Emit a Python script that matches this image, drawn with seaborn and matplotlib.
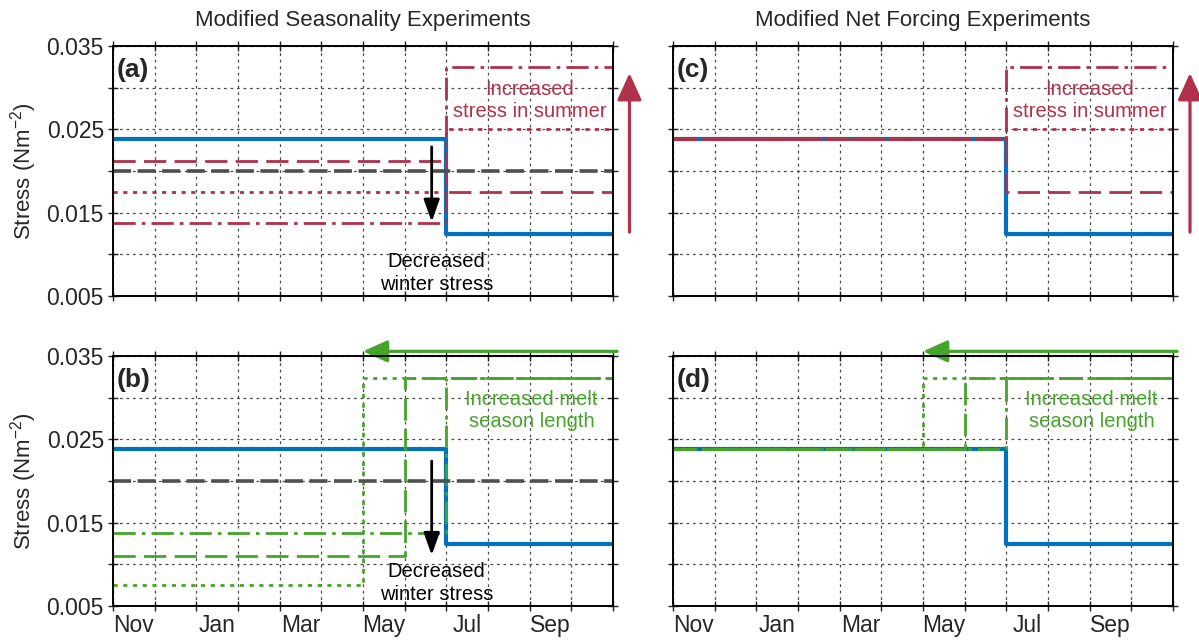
import numpy as np
import matplotlib
matplotlib.use("Agg")
import matplotlib.pyplot as plt
import seaborn as sns

# ---------------- data ----------------
months = ["Nov", "Dec", "Jan", "Feb", "Mar", "Apr", "May", "Jun", "Jul", "Aug", "Sep", "Oct"]
month_labels = ["Nov", "Jan", "Mar", "May", "Jul", "Sep"]
y_ticks = [0.005, 0.010, 0.015, 0.020, 0.025, 0.030, 0.035]
y_labels = ["0.005", "", "0.015", "", "0.025", "", "0.035"]

# monthly stress values (Nov..Oct)
control = [0.0238, 0.0238, 0.0238, 0.0238, 0.0238, 0.0238, 0.0238, 0.0238, 0.0125, 0.0125, 0.0125, 0.0125]
annual_mean = [0.020] * 12

# (a) modified seasonality
seas_dashed = [0.0212, 0.0212, 0.0212, 0.0212, 0.0212, 0.0212, 0.0212, 0.0212, 0.0175, 0.0175, 0.0175, 0.0175]
seas_dotted = [0.0175, 0.0175, 0.0175, 0.0175, 0.0175, 0.0175, 0.0175, 0.0175, 0.0250, 0.0250, 0.0250, 0.0250]
seas_dashdot = [0.0138, 0.0138, 0.0138, 0.0138, 0.0138, 0.0138, 0.0138, 0.0138, 0.0325, 0.0325, 0.0325, 0.0325]

# (c) modified net forcing
net_dashed = [0.0238, 0.0238, 0.0238, 0.0238, 0.0238, 0.0238, 0.0238, 0.0238, 0.0175, 0.0175, 0.0175, 0.0175]
net_dotted = [0.0238, 0.0238, 0.0238, 0.0238, 0.0238, 0.0238, 0.0238, 0.0238, 0.0250, 0.0250, 0.0250, 0.0250]
net_dashdot = [0.0238, 0.0238, 0.0238, 0.0238, 0.0238, 0.0238, 0.0238, 0.0238, 0.0325, 0.0325, 0.0325, 0.0325]

# (b) melt season length, modified seasonality
melt_dashdot = [0.0138, 0.0138, 0.0138, 0.0138, 0.0138, 0.0138, 0.0138, 0.0138, 0.0324, 0.0324, 0.0324, 0.0324]
melt_dashed = [0.0110, 0.0110, 0.0110, 0.0110, 0.0110, 0.0110, 0.0110, 0.0324, 0.0324, 0.0324, 0.0324, 0.0324]
melt_dotted = [0.0075, 0.0075, 0.0075, 0.0075, 0.0075, 0.0075, 0.0324, 0.0324, 0.0324, 0.0324, 0.0324, 0.0324]

# (d) melt season length, net forcing
meltnet_dashdot = [0.0238, 0.0238, 0.0238, 0.0238, 0.0238, 0.0238, 0.0238, 0.0238, 0.0324, 0.0324, 0.0324, 0.0324]
meltnet_dashed = [0.0238, 0.0238, 0.0238, 0.0238, 0.0238, 0.0238, 0.0238, 0.0324, 0.0324, 0.0324, 0.0324, 0.0324]
meltnet_dotted = [0.0238, 0.0238, 0.0238, 0.0238, 0.0238, 0.0238, 0.0324, 0.0324, 0.0324, 0.0324, 0.0324, 0.0324]

# ---------------- style ----------------
sns.set_theme(style="white")
plt.rcParams["font.family"] = ["Liberation Sans", "DejaVu Sans"]
plt.rcParams["mathtext.default"] = "regular"

BLUE = "#0072BD"
RED = "#B0314A"
GREEN = "#45A52A"
GRAY = "#4F4F4F"

LS_DASH = (0, (8, 3))
LS_DOT = (0, (1.5, 2))
LS_DASHDOT = (0, (8, 2.2, 1.3, 2.2))
LS_GRAY = (0, (5, 1.8))

fig = plt.figure(figsize=(11.99, 6.41), dpi=100)
W, H = 0.4170, 0.3900
ax_a = fig.add_axes([0.0942, 0.5382, W, H])
ax_b = fig.add_axes([0.0942, 0.0546, W, H])
ax_c = fig.add_axes([0.5613, 0.5382, W, H])
ax_d = fig.add_axes([0.5613, 0.0546, W, H])

x_edges = np.arange(13)


def step_line(ax, vals, color, lw, ls="-"):
    y = list(vals) + [vals[-1]]
    sns.lineplot(x=x_edges, y=y, ax=ax, color=color, lw=lw, linestyle=ls,
                 drawstyle="steps-post", estimator=None, sort=False, legend=False,
                 solid_capstyle="butt", dash_capstyle="butt")


def style_axes(ax, left_labels, bottom_labels):
    ax.set_xlim(0, 12)
    ax.set_ylim(0.005, 0.035)
    ax.set_xticks(np.arange(13))
    ax.set_xticklabels([])
    ax.set_xticks(np.arange(0.5, 12, 2), minor=True)
    if bottom_labels:
        ax.set_xticklabels(month_labels, minor=True)
    else:
        ax.set_xticklabels([], minor=True)
    ax.set_yticks(y_ticks)
    ax.set_yticklabels(y_labels if left_labels else [])
    ax.tick_params(which="major", direction="inout", length=7, width=1.0,
                   top=True, right=True, left=True, bottom=True,
                   labelsize=16.5, color="#222222", pad=3)
    ax.tick_params(axis="x", which="minor", length=0, labelsize=16.5, pad=6)
    ax.grid(True, which="major", linestyle=(0, (2.2, 3)), color="#4a4a4a", lw=0.9)
    for s in ax.spines.values():
        s.set_color("black")
        s.set_linewidth(1.4)
        s.set_zorder(5)
    ax.set_xlabel("")
    ax.set_ylabel("")


# (a)
step_line(ax_a, control, BLUE, 3.0)
step_line(ax_a, seas_dashed, RED, 2.0, LS_DASH)
step_line(ax_a, seas_dotted, RED, 2.0, LS_DOT)
step_line(ax_a, seas_dashdot, RED, 2.0, LS_DASHDOT)
step_line(ax_a, annual_mean, GRAY, 2.6, LS_GRAY)

# (b)
step_line(ax_b, control, BLUE, 3.0)
step_line(ax_b, melt_dashdot, GREEN, 2.0, LS_DASHDOT)
step_line(ax_b, melt_dashed, GREEN, 2.0, LS_DASH)
step_line(ax_b, melt_dotted, GREEN, 2.0, LS_DOT)
step_line(ax_b, annual_mean, GRAY, 2.6, LS_GRAY)

# (c)
step_line(ax_c, control, BLUE, 3.0)
step_line(ax_c, net_dashed, RED, 2.0, LS_DASH)
step_line(ax_c, net_dotted, RED, 2.0, LS_DOT)
step_line(ax_c, net_dashdot, RED, 2.0, LS_DASHDOT)

# (d)
step_line(ax_d, control, BLUE, 3.0)
step_line(ax_d, meltnet_dashdot, GREEN, 2.0, LS_DASHDOT)
step_line(ax_d, meltnet_dashed, GREEN, 2.0, LS_DASH)
step_line(ax_d, meltnet_dotted, GREEN, 2.0, LS_DOT)

style_axes(ax_a, True, False)
style_axes(ax_b, True, True)
style_axes(ax_c, False, False)
style_axes(ax_d, False, True)

# panel letters
for ax, lab in zip([ax_a, ax_b, ax_c, ax_d], ["(a)", "(b)", "(c)", "(d)"]):
    ax.text(0.008, 0.905, lab, transform=ax.transAxes, fontsize=19,
            fontweight="bold", ha="left", va="center", zorder=6)

# annotations text
for ax in (ax_a, ax_c):
    ax.text(10.0, 0.0285, "Increased\nstress in summer", color=RED, fontsize=14.5,
            ha="center", va="center", linespacing=1.2)
for ax in (ax_b, ax_d):
    ax.text(10.05, 0.0285, "Increased melt\nseason length", color=GREEN, fontsize=14.5,
            ha="center", va="center", linespacing=1.2)
for ax, ytop, ytip in ((ax_a, 0.0229, 0.0139), (ax_b, 0.0224, 0.0111)):
    ax.text(7.77, 0.0078, "Decreased\nwinter stress", color="black", fontsize=14.5,
            ha="center", va="center", linespacing=1.25)
    ax.annotate("", xy=(7.65, ytip), xytext=(7.65, ytop),
                arrowprops=dict(arrowstyle="-|>,head_length=0.9,head_width=0.32",
                                mutation_scale=15, lw=2.0, color="black",
                                shrinkA=0, shrinkB=0))

# green arrows above bottom panels
for ax in (ax_b, ax_d):
    ax.annotate("", xy=(6.0, 0.03556), xytext=(12.1, 0.03556),
                arrowprops=dict(arrowstyle="-|>,head_length=1.0,head_width=0.45",
                                mutation_scale=15, lw=2.3, color=GREEN,
                                shrinkA=0, shrinkB=0),
                annotation_clip=False)

# red arrows beside panel (c)
for xf in (0.5250, 0.9925):
    ax_c.annotate("", xy=(xf, 0.886), xytext=(xf, 0.638),
                  xycoords="figure fraction", textcoords="figure fraction",
                  arrowprops=dict(arrowstyle="-|>,head_length=1.1,head_width=0.5",
                                  mutation_scale=15, lw=2.3, color=RED,
                                  shrinkA=0, shrinkB=0),
                  annotation_clip=False)

# column titles
fig.text(0.3028, 0.968, "Modified Seasonality Experiments", fontsize=16,
         ha="center", va="center")
fig.text(0.7698, 0.968, "Modified Net Forcing Experiments", fontsize=16,
         ha="center", va="center")

# y labels
for ax in (ax_a, ax_b):
    pos = ax.get_position()
    fig.text(0.020, pos.y0 + pos.height / 2, "Stress (Nm$^{-2}$)", fontsize=16,
             rotation=90, ha="center", va="center")

fig.savefig("out.png", dpi=100)
